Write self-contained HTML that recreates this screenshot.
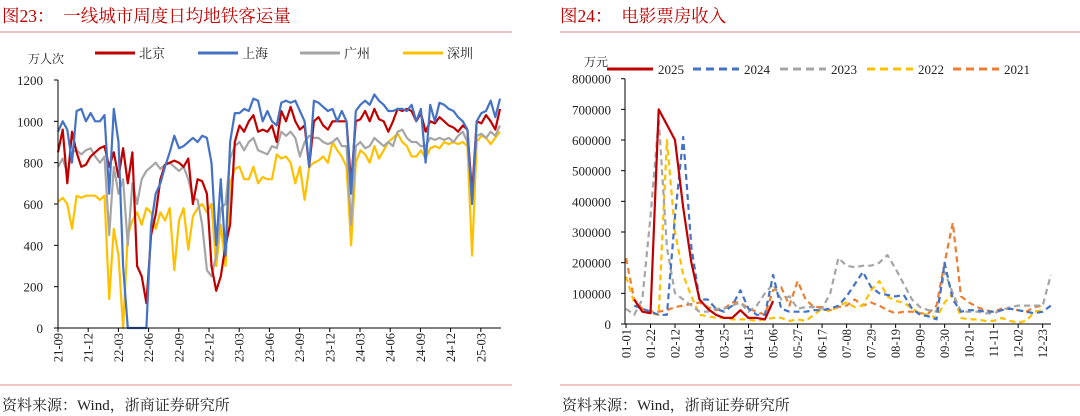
<!DOCTYPE html>
<html><head><meta charset="utf-8">
<style>
html,body{margin:0;padding:0;background:#fff;}
svg{display:block;font-family:"Liberation Serif","Noto Serif CJK SC",serif;}
</style></head>
<body>
<svg id="root" width="1080" height="416" viewBox="0 0 1080 416" xmlns="http://www.w3.org/2000/svg">
  <text x="2" y="22" font-size="17.5" fill="#c00000">图23：　一线城市周度日均地铁客运量</text>
  <line x1="0" y1="32" x2="512" y2="32" stroke="#e8a0a0" stroke-width="1.2"/>
  <text x="560" y="22" font-size="17.5" fill="#c00000">图24：　电影票房收入</text>
  <line x1="560" y1="32" x2="1080" y2="32" stroke="#e8a0a0" stroke-width="1.2"/>
  <line x1="0" y1="385" x2="512" y2="385" stroke="#e8a0a0" stroke-width="1.2"/>
  <line x1="560" y1="385" x2="1080" y2="385" stroke="#e8a0a0" stroke-width="1.2"/>
  <text x="2" y="410" font-size="15" fill="#222">资料来源：Wind，浙商证券研究所</text>
  <text x="562" y="410" font-size="15" fill="#222">资料来源：Wind，浙商证券研究所</text>
  <g id="left"></g>
  <g id="right"></g>
</svg>
<script>
// ---- Left chart data (bi-weekly, 万人次) ----
const metroTicks = ["21-09","21-12","22-03","22-06","22-09","22-12","23-03","23-06","23-09","23-12","24-03","24-06","24-09","24-12","25-03"];
const metroYTicks = [0,200,400,600,800,1000,1200];
const beijing = [850,960,700,950,850,780,790,830,850,870,880,780,850,730,870,700,850,300,250,120,450,550,720,790,800,810,800,780,820,600,720,710,650,300,180,250,400,500,900,980,950,1000,1030,950,960,950,980,900,1050,1000,1070,1000,960,980,780,1000,1020,980,960,1000,1000,1000,1000,700,1000,1010,1050,1000,1060,1010,1000,950,1000,1060,1050,1060,1050,1000,1040,950,1000,990,1020,1000,980,970,950,980,960,650,1000,990,1030,1000,960,1060];
const shanghai = [950,1000,960,800,1050,1060,1000,1040,1000,1000,1030,650,1060,900,300,0,0,0,0,0,500,650,700,780,850,930,870,880,900,920,900,930,920,800,400,720,350,900,1040,1040,1060,1050,1110,1100,1000,1050,1000,980,1090,1100,1090,1100,1050,1000,780,1100,1090,1070,1050,1060,1000,1050,1000,650,1050,1080,1100,1080,1130,1100,1080,1050,1050,1060,1060,1050,1080,1000,1060,800,1080,1000,1090,1080,1060,1050,1020,1000,960,600,1000,1040,1050,1100,1020,1110];
const guangzhou = [780,820,750,850,860,840,860,870,830,800,830,450,780,650,720,400,700,600,720,760,780,800,770,790,800,780,760,780,720,630,620,500,280,250,350,580,600,820,880,900,860,900,920,860,850,840,880,870,950,930,950,920,830,900,930,920,920,900,890,900,920,880,880,500,880,900,870,880,920,900,880,900,880,950,960,920,900,900,880,880,920,910,920,910,920,900,930,950,900,630,930,940,920,950,930,980];
const shenzhen = [610,630,600,480,640,630,640,640,640,620,640,140,480,350,0,450,520,560,500,580,560,480,560,520,580,280,520,580,380,540,580,600,560,600,300,500,300,700,770,780,720,720,780,700,730,720,720,840,820,830,800,700,780,620,780,800,810,830,800,900,860,830,780,400,800,860,840,800,880,820,860,900,920,940,900,880,830,830,860,820,870,880,870,900,890,900,890,900,880,350,900,930,920,890,920,950];

// ---- Right chart data (weekly, 万元) ----
const weekTicks = ["01-01","01-22","02-12","03-04","03-25","04-15","05-06","05-27","06-17","07-08","07-29","08-19","09-09","09-30","10-21","11-11","12-02","12-23"];
const boxYTicks = [0,100000,200000,300000,400000,500000,600000,700000,800000];
const y2025 = [null,80000,40000,35000,700000,650000,600000,380000,200000,80000,50000,30000,20000,20000,45000,20000,20000,15000,75000];
const y2024 = [null,60000,50000,40000,30000,30000,350000,610000,250000,80000,80000,50000,40000,60000,110000,50000,30000,30000,160000,50000,40000,40000,40000,45000,45000,50000,60000,90000,130000,170000,120000,100000,95000,90000,95000,50000,30000,25000,15000,200000,80000,40000,45000,45000,40000,40000,45000,50000,45000,40000,35000,40000,60000];
const y2023 = [50000,30000,80000,350000,670000,250000,100000,80000,60000,40000,40000,50000,50000,60000,70000,40000,60000,100000,130000,80000,90000,50000,55000,55000,50000,100000,215000,190000,185000,190000,190000,200000,225000,180000,130000,80000,55000,45000,40000,170000,100000,40000,40000,40000,35000,35000,45000,55000,60000,60000,60000,60000,160000];
const y2022 = [155000,70000,45000,35000,30000,600000,300000,160000,90000,30000,25000,20000,20000,15000,15000,15000,10000,15000,20000,20000,10000,15000,10000,30000,50000,40000,60000,70000,55000,60000,110000,140000,90000,75000,70000,50000,35000,30000,20000,70000,100000,20000,15000,15000,10000,10000,20000,10000,5000,10000,40000,45000];
const y2021 = [215000,80000,50000,40000,40000,45000,55000,60000,65000,70000,55000,45000,50000,70000,70000,50000,40000,30000,110000,120000,60000,140000,80000,55000,55000,45000,55000,60000,80000,60000,70000,60000,45000,35000,40000,40000,35000,35000,60000,200000,330000,90000,70000,55000,45000,40000,50000,50000,45000,40000,55000,60000];

const NS="http://www.w3.org/2000/svg";
function mk(parent,tag,attrs,text){const e=document.createElementNS(NS,tag);for(const k in attrs)e.setAttribute(k,attrs[k]);if(text!==undefined)e.textContent=text;parent.appendChild(e);return e;}
function pathFrom(vals,xf,yf){let d="",pen=false;vals.forEach((v,i)=>{if(v===null){pen=false;return;}d+=(pen?"L":"M")+xf(i).toFixed(1)+","+yf(v).toFixed(1);pen=true;});return d;}

// ---- Left chart ----
(function(){
  const g=document.getElementById('left');
  const x0=58,x1=500,yb=328,yt=80;
  const n=beijing.length;
  const xs=i=>x0+i*(x1-x0)/(n-1);
  const ys=v=>yb-(v/1200)*(yb-yt);
  const qx=q=>x0+q*30.2;
  const unit=mk(g,'text',{x:28,y:63,'font-size':12,fill:'#222'},'万人次');
  
  
  metroYTicks.forEach(v=>{
    const t=mk(g,'text',{x:43,y:ys(v)+5,'font-size':13,'text-anchor':'end',fill:'#222'},String(v));
    
    
    const tk=mk(g,'line',{x1:x0-4,x2:x0,y1:ys(v),y2:ys(v),stroke:'#000'});
    
    
  });
  metroTicks.forEach((lab,q)=>{
    const x=qx(q);
    const tk=mk(g,'line',{x1:x,x2:x,y1:yb,y2:yb+4,stroke:'#000'});
    
    
    const t=mk(g,'text',{x:0,y:0,'font-size':12.5,'text-anchor':'end',fill:'#222',transform:`translate(${x+4.5},${yb+5}) rotate(-90)`},lab);
    
    
  });
  const series=[[beijing,'#c00000','beijing-line'],[shanghai,'#4472c4','shanghai-line'],[guangzhou,'#a5a5a5','guangzhou-line'],[shenzhen,'#ffc000','shenzhen-line']];
  const order=[3,2,0,1];
  order.forEach(k=>{
    const [vals,col,name]=series[k];
    const p=mk(g,'path',{d:pathFrom(vals,xs,ys),fill:'none',stroke:col,'stroke-width':2.2,'stroke-linejoin':'round'});
    
    
  });
  const ax=mk(g,'path',{d:`M${x0},${yt}L${x0},${yb}L${x1+1},${yb}`,fill:'none',stroke:'#000','stroke-width':1});
  
  
  const leg=[['北京','#c00000',95],['上海','#4472c4',198],['广州','#a5a5a5',300],['深圳','#ffc000',403]];
  leg.forEach(([lab,col,lx])=>{
    const le=mk(g,'g',{});
    
    
    mk(le,'line',{x1:lx,x2:lx+40,y1:53,y2:53,stroke:col,'stroke-width':3});
    mk(le,'text',{x:lx+44,y:58,'font-size':13,fill:'#222'},lab);
  });
})();

// ---- Right chart ----
(function(){
  const g=document.getElementById('right');
  const x0=625,x1=1051,yb=324,yt=78.7;
  const step=8.17,xst=626;
  const xs=i=>xst+i*step;
  const ys=v=>yb-(v/800000)*(yb-yt);
  const unit=mk(g,'text',{x:584,y:66,'font-size':12,fill:'#222'},'万元');
  
  
  boxYTicks.forEach(v=>{
    const t=mk(g,'text',{x:611,y:ys(v)+5,'font-size':13,'text-anchor':'end',fill:'#222'},String(v));
    
    
    const tk=mk(g,'line',{x1:x0-4,x2:x0,y1:ys(v),y2:ys(v),stroke:'#000'});
    
    
  });
  weekTicks.forEach((lab,q)=>{
    const x=xs(q*3);
    const tk=mk(g,'line',{x1:x,x2:x,y1:yb,y2:yb+4,stroke:'#000'});
    
    
    const t=mk(g,'text',{x:0,y:0,'font-size':12.5,'text-anchor':'end',fill:'#222',transform:`translate(${x+4.5},${yb+5}) rotate(-90)`},lab);
    
    
  });
  const series=[[y2021,'#ed7d31','series-2021',true],[y2022,'#ffc000','series-2022',true],[y2023,'#a5a5a5','series-2023',true],[y2024,'#4472c4','series-2024',true],[y2025,'#c00000','series-2025',false]];
  series.forEach(([vals,col,name,dash])=>{
    const a={d:pathFrom(vals,xs,ys),fill:'none',stroke:col,'stroke-width':2.2,'stroke-linejoin':'round'};
    if(dash)a['stroke-dasharray']='6,4';
    const p=mk(g,'path',a);
    
    
  });
  const ax=mk(g,'path',{d:`M${x0},${yt}L${x0},${yb}L${x1},${yb}`,fill:'none',stroke:'#000','stroke-width':1});
  
  
  const leg=[['2025','#c00000',607,false],['2024','#4472c4',693,true],['2023','#a5a5a5',780,true],['2022','#ffc000',867,true],['2021','#ed7d31',953,true]];
  leg.forEach(([lab,col,lx,dash])=>{
    const le=mk(g,'g',{});
    
    
    const a={x1:lx,x2:lx+46,y1:69,y2:69,stroke:col,'stroke-width':3};
    if(dash)a['stroke-dasharray']='8,5';
    mk(le,'line',a);
    mk(le,'text',{x:lx+51,y:74,'font-size':13,fill:'#222'},lab);
  });
})();
</script>
</body></html>
